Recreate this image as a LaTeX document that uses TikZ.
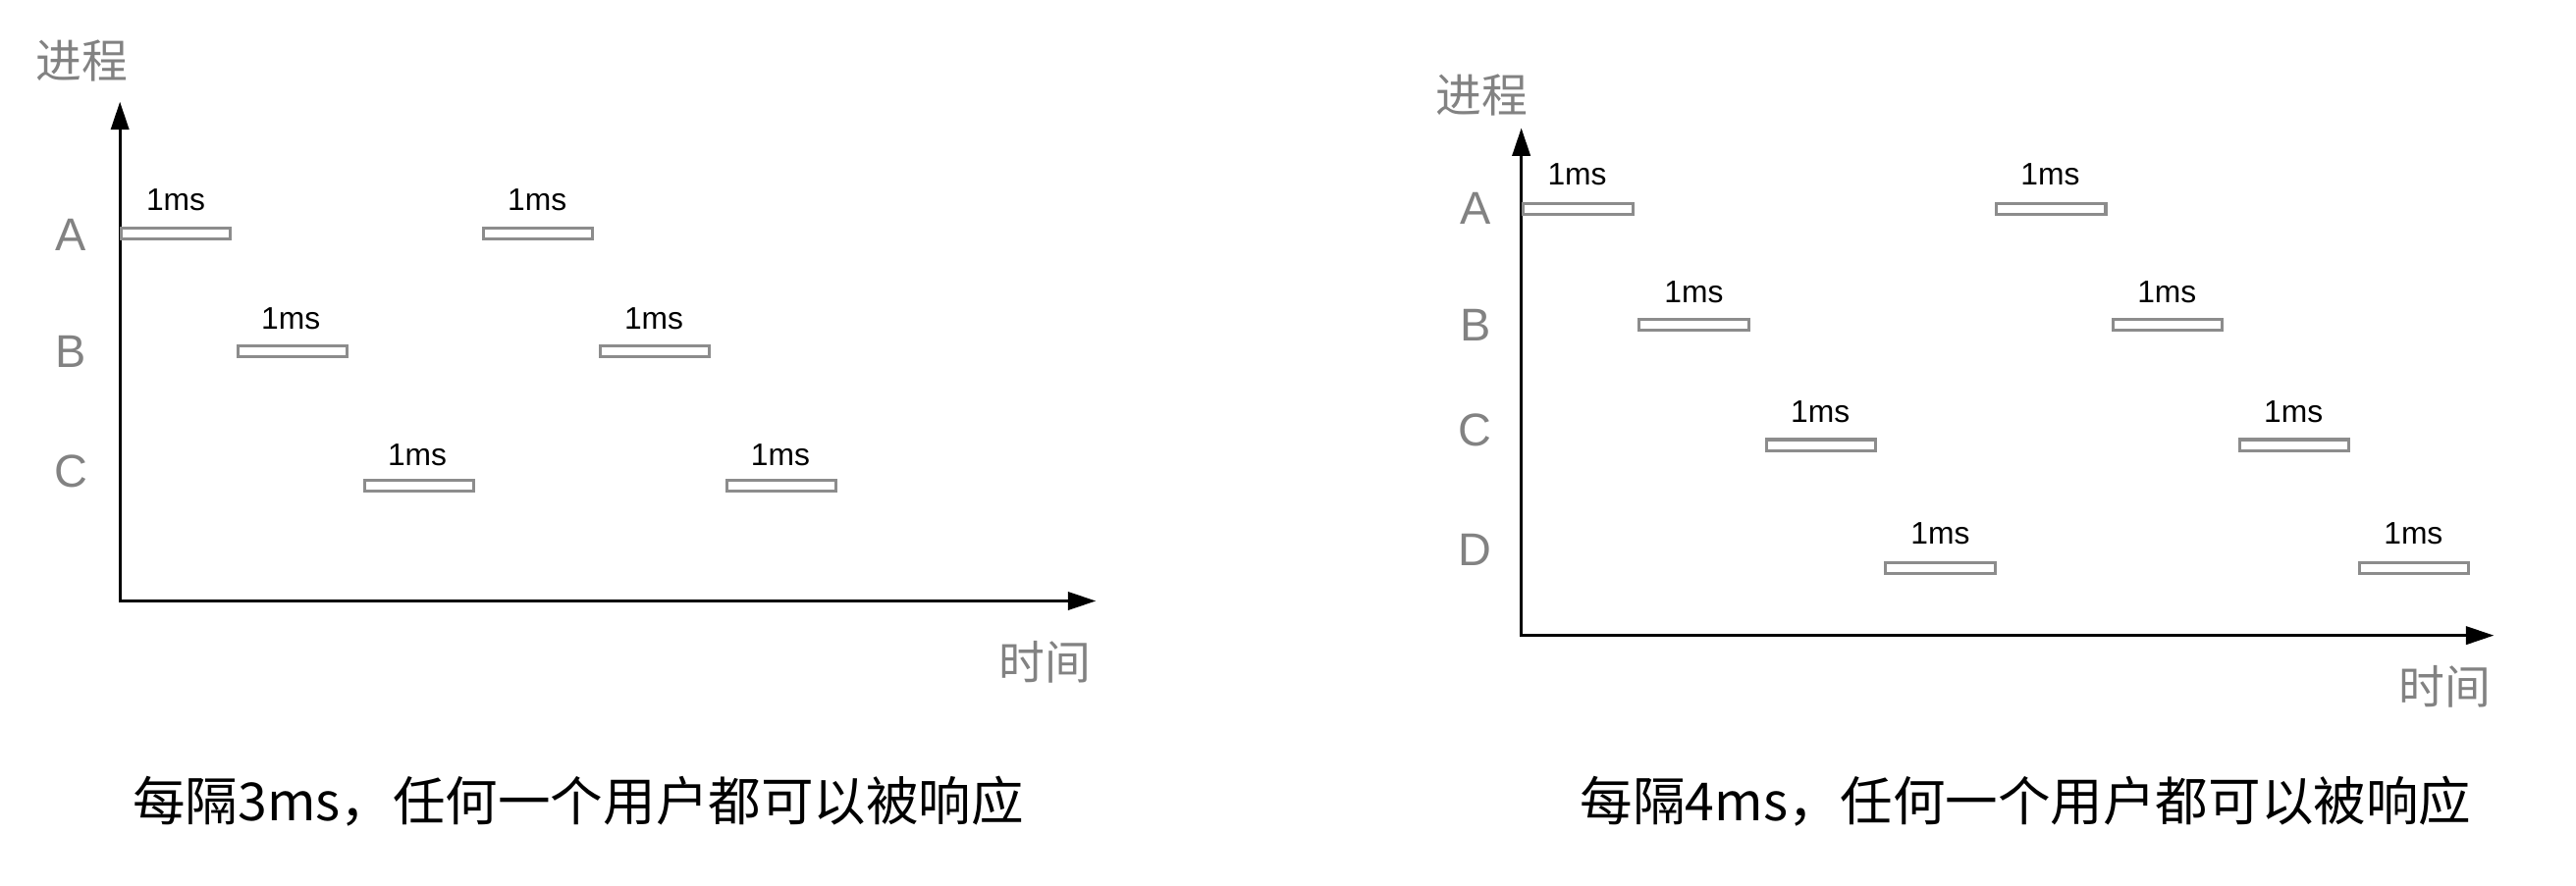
\documentclass[tikz,border=0pt]{standalone}
\usepackage{fontspec}
\setmainfont{Liberation Sans}
\newfontfamily\cjk{Noto Sans CJK SC}
\usetikzlibrary{arrows.meta}
\definecolor{labgray}{HTML}{828282}
\definecolor{barcol}{HTML}{8C8C8C}
\begin{document}
\begin{tikzpicture}[x=1pt,y=-1pt,
  axis/.style={draw=black,line width=1.6pt,{Triangle[length=17pt,width=11pt]}-{Triangle[length=17pt,width=11pt]}},
  bar/.style={draw=barcol,line width=1.8pt,fill=white,minimum width=66.5pt,minimum height=6.6pt,inner sep=0pt},
  ms/.style={inner sep=0pt,font=\fontsize{19}{19}\selectfont,text=black},
  proc/.style={inner sep=0pt,font=\fontsize{28}{28}\selectfont,text=labgray},
  axlab/.style={inner sep=0pt,font=\cjk\fontsize{28}{28}\selectfont,text=labgray},
  caption/.style={inner sep=0pt,font=\cjk\fontsize{32}{32}\selectfont,text=black}]
\useasboundingbox (0,0) rectangle (1568,539);
% ---------- left chart ----------
\node[axlab] (Lp) at (50,37) {进程};
\node[axlab] (Lt) at (636,403) {时间};
\coordinate (LO) at (73,366);
\coordinate (LY) at (73,62);
\coordinate (LX) at (667,366);
\draw[axis] (LY) -- (LO) -- (LX);
\node[proc] (LA) at (43,143) {A};
\node[proc] (LB) at (43,214) {B};
\node[proc] (LC) at (43,287) {C};
\node[bar] (LA1) at (107,142) {};
\node[bar] (LA2) at (327.5,142) {};
\node[bar] (LB1) at (178,214) {};
\node[bar] (LB2) at (398.5,214) {};
\node[bar] (LC1) at (255,296) {};
\node[bar] (LC2) at (475.5,296) {};
\node[ms] (LA1t) at (107,122) {1ms};
\node[ms] (LA2t) at (327,122) {1ms};
\node[ms] (LB1t) at (177,194) {1ms};
\node[ms] (LB2t) at (398,194) {1ms};
\node[ms] (LC1t) at (254,277) {1ms};
\node[ms] (LC2t) at (475,277) {1ms};
\node[caption] (Lcap) at (352,488) {每隔3ms，任何一个用户都可以被响应};
% ---------- right chart ----------
\node[axlab] (Rp) at (902,58) {进程};
\node[axlab] (Rt) at (1488,418) {时间};
\coordinate (RO) at (926,387);
\coordinate (RY) at (926,78);
\coordinate (RX) at (1518,387);
\draw[axis] (RY) -- (RO) -- (RX);
\node[proc] (RA) at (898,127) {A};
\node[proc] (RB) at (898,198) {B};
\node[proc] (RC) at (898,262) {C};
\node[proc] (RD) at (898,335) {D};
\node[bar] (RA1) at (960.5,127) {};
\node[bar] (RA2) at (1248.5,127) {};
\node[bar] (RB1) at (1031,198) {};
\node[bar] (RB2) at (1319.5,198) {};
\node[bar] (RC1) at (1108.5,271) {};
\node[bar] (RC2) at (1396.5,271) {};
\node[bar] (RD1) at (1181,346) {};
\node[bar] (RD2) at (1469.5,346) {};
\node[ms] (RA1t) at (960,106) {1ms};
\node[ms] (RA2t) at (1248,106) {1ms};
\node[ms] (RB1t) at (1031,178) {1ms};
\node[ms] (RB2t) at (1319,178) {1ms};
\node[ms] (RC1t) at (1108,251) {1ms};
\node[ms] (RC2t) at (1396,251) {1ms};
\node[ms] (RD1t) at (1181,325) {1ms};
\node[ms] (RD2t) at (1469,325) {1ms};
\node[caption] (Rcap) at (1233,488) {每隔4ms，任何一个用户都可以被响应};
\end{tikzpicture}
\end{document}
